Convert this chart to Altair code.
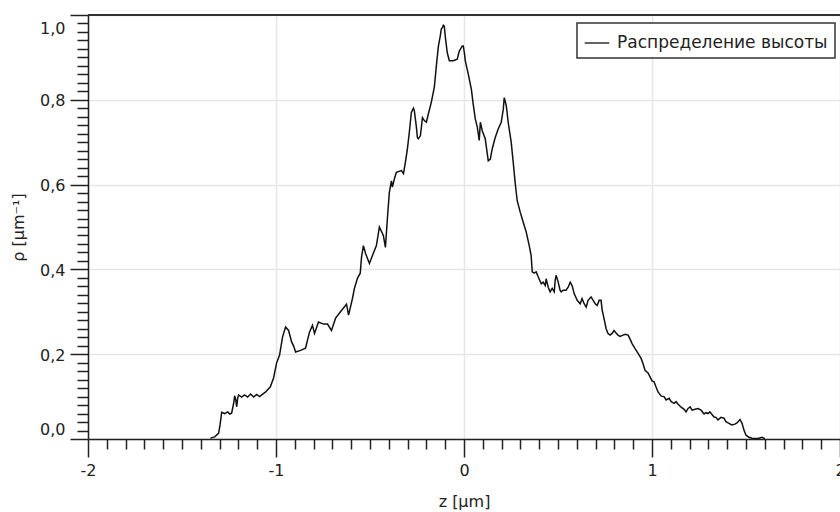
import altair as alt
import pandas as pd

# ---- data ----
z = [
    -1.349, -1.326, -1.305, -1.297, -1.289, -1.273, -1.257, -1.246, -1.236, -1.224,
    -1.220, -1.214, -1.209, -1.204, -1.199, -1.183, -1.167, -1.151, -1.135, -1.119,
    -1.103, -1.087, -1.071, -1.055, -1.030, -1.013, -0.997, -0.981, -0.965, -0.949,
    -0.933, -0.917, -0.906, -0.896, -0.869, -0.843, -0.822, -0.806, -0.795, -0.774,
    -0.747, -0.726, -0.705, -0.683, -0.657, -0.625, -0.614, -0.593, -0.583, -0.567,
    -0.552, -0.545, -0.535, -0.524, -0.503, -0.487, -0.466, -0.450, -0.429, -0.418,
    -0.407, -0.397, -0.386, -0.381, -0.370, -0.360, -0.333, -0.322, -0.312, -0.301,
    -0.290, -0.280, -0.269, -0.264, -0.253, -0.248, -0.243, -0.232, -0.221, -0.211,
    -0.200, -0.190, -0.174, -0.158, -0.147, -0.136, -0.126, -0.121, -0.115, -0.110,
    -0.105, -0.099, -0.089, -0.078, -0.057, -0.036, -0.025, -0.009, -0.004, 0.002,
    0.007, 0.023, 0.039, 0.049, 0.060, 0.071, 0.081, 0.087, 0.097, 0.113,
    0.129, 0.140, 0.150, 0.166, 0.182, 0.198, 0.209, 0.214, 0.225, 0.235,
    0.251, 0.262, 0.272, 0.283, 0.299, 0.315, 0.331, 0.347, 0.357, 0.363,
    0.373, 0.384, 0.395, 0.411, 0.421, 0.432, 0.437, 0.448, 0.458, 0.469,
    0.480, 0.485, 0.490, 0.501, 0.511, 0.517, 0.527, 0.543, 0.554, 0.565,
    0.575, 0.586, 0.602, 0.618, 0.628, 0.639, 0.650, 0.660, 0.676, 0.687,
    0.698, 0.708, 0.719, 0.729, 0.735, 0.745, 0.756, 0.766, 0.777, 0.788,
    0.798, 0.809, 0.819, 0.830, 0.846, 0.857, 0.873, 0.884, 0.894, 0.910,
    0.926, 0.942, 0.952, 0.963, 0.979, 0.989, 1.000, 1.011, 1.021, 1.032,
    1.049, 1.064, 1.075, 1.091, 1.102, 1.118, 1.128, 1.139, 1.155, 1.171,
    1.181, 1.192, 1.203, 1.213, 1.229, 1.245, 1.261, 1.277, 1.287, 1.298,
    1.308, 1.319, 1.330, 1.340, 1.351, 1.367, 1.383, 1.393, 1.409, 1.425,
    1.441, 1.452, 1.468, 1.479, 1.489, 1.500, 1.516, 1.532, 1.564, 1.585,
    1.601,
]
rho = [
    0.002, 0.005, 0.014, 0.035, 0.063, 0.060, 0.064, 0.059, 0.061, 0.087,
    0.102, 0.092, 0.076, 0.096, 0.104, 0.099, 0.104, 0.099, 0.106, 0.099,
    0.105, 0.100, 0.106, 0.111, 0.123, 0.144, 0.179, 0.198, 0.241, 0.264,
    0.256, 0.229, 0.219, 0.205, 0.209, 0.214, 0.252, 0.268, 0.249, 0.276,
    0.271, 0.271, 0.256, 0.285, 0.300, 0.318, 0.292, 0.332, 0.355, 0.379,
    0.391, 0.429, 0.456, 0.438, 0.414, 0.433, 0.456, 0.500, 0.480, 0.452,
    0.523, 0.582, 0.609, 0.594, 0.614, 0.629, 0.633, 0.626, 0.652, 0.684,
    0.727, 0.770, 0.780, 0.774, 0.735, 0.711, 0.708, 0.715, 0.758, 0.751,
    0.747, 0.766, 0.794, 0.829, 0.880, 0.927, 0.951, 0.967, 0.970, 0.976,
    0.974, 0.947, 0.911, 0.892, 0.892, 0.896, 0.915, 0.927, 0.927, 0.911,
    0.892, 0.860, 0.825, 0.790, 0.755, 0.735, 0.704, 0.747, 0.727, 0.708,
    0.656, 0.660, 0.684, 0.711, 0.731, 0.747, 0.778, 0.805, 0.786, 0.747,
    0.700, 0.652, 0.605, 0.562, 0.535, 0.511, 0.488, 0.456, 0.433, 0.394,
    0.391, 0.394, 0.382, 0.366, 0.370, 0.362, 0.378, 0.358, 0.347, 0.355,
    0.347, 0.374, 0.386, 0.370, 0.351, 0.347, 0.351, 0.351, 0.358, 0.370,
    0.362, 0.343, 0.327, 0.319, 0.331, 0.319, 0.311, 0.327, 0.335, 0.327,
    0.319, 0.315, 0.327, 0.327, 0.304, 0.284, 0.260, 0.249, 0.245, 0.249,
    0.256, 0.250, 0.245, 0.242, 0.245, 0.247, 0.245, 0.235, 0.225, 0.213,
    0.202, 0.190, 0.178, 0.162, 0.156, 0.147, 0.137, 0.135, 0.123, 0.111,
    0.101, 0.100, 0.092, 0.096, 0.088, 0.084, 0.088, 0.082, 0.075, 0.070,
    0.064, 0.072, 0.076, 0.068, 0.070, 0.072, 0.068, 0.059, 0.062, 0.060,
    0.064, 0.058, 0.052, 0.051, 0.045, 0.051, 0.049, 0.041, 0.037, 0.033,
    0.035, 0.038, 0.046, 0.037, 0.021, 0.009, 0.004, 0.002, 0.001, 0.004,
    0.001,
]
series_name = "Распределение высоты"
x_title = "z [μm]"
y_title = "ρ [μm⁻¹]"
x_domain = [-2, 2]
y_domain = [0, 1]
x_ticks = [round(-2 + 0.1 * i, 1) for i in range(41)]   # minor step 0.1, major every 1
y_ticks = [round(0.02 * i, 2) for i in range(51)]       # minor step 0.02, major every 0.2
top_border = [1.0]

df = pd.DataFrame({"z": z, "rho": rho, "series": series_name})
top_df = pd.DataFrame({"y": top_border})

FONT = "DejaVu Sans"
INK = "#222222"

x_major = "abs(datum.value - round(datum.value)) < 1e-6"
y_major = "abs(datum.value * 5 - round(datum.value * 5)) < 1e-6"

x_axis = alt.Axis(
    values=x_ticks,
    tickCount=500,
    title=x_title,
    labelExpr=f"{x_major} ? toString(round(datum.value)) : ''",
    tickSize={"condition": {"test": x_major, "value": 18}, "value": 10},
    gridOpacity={"condition": {"test": x_major, "value": 1}, "value": 0},
    labelFlush=False,
    labelOverlap=False,
    labelPadding=5,
    titlePadding=15,
)
y_axis = alt.Axis(
    values=y_ticks,
    tickCount=500,
    title=y_title,
    labelExpr=f"{y_major} ? replace(format(datum.value, '.1f'), '.', ',') : ''",
    tickSize={"condition": {"test": y_major, "value": 18}, "value": 11},
    gridOpacity={"condition": {"test": y_major, "value": 1}, "value": 0},
    labelFlush=False,
    labelOffset={
        "condition": [
            {"test": "datum.value > 0.99", "value": 13},
            {"test": "datum.value < 0.01", "value": -10},
        ],
        "value": 1,
    },
    labelOverlap=False,
    labelPadding=5,
    titlePadding=13,
)

line = alt.Chart(df).mark_line(strokeWidth=1.5, interpolate="linear").encode(
    x=alt.X("z:Q", scale=alt.Scale(domain=x_domain, nice=False, zero=False), axis=x_axis),
    y=alt.Y("rho:Q", scale=alt.Scale(domain=y_domain, nice=False), axis=y_axis),
    color=alt.Color(
        "series:N",
        scale=alt.Scale(range=["#111111"]),
        legend=alt.Legend(
            title=None,
            orient="none",
            legendX=489,
            legendY=8,
            symbolType="stroke",
            symbolSize=600,
            symbolStrokeWidth=1.3,
            labelFont=FONT,
            labelFontSize=17,
            labelColor=INK,
            labelOffset=7,
            labelLimit=0,
            padding=7,
            strokeColor="#333333",
            fillColor="white",
        ),
    ),
)

border = alt.Chart(top_df).mark_rule(color="#333333", strokeWidth=2).encode(
    y=alt.Y("y:Q")
)

chart = (
    alt.layer(line, border)
    .properties(
        width=752,
        height=424,
        autosize=alt.AutoSizeParams(type="none"),
        padding={"left": 88, "top": 15, "right": 0, "bottom": 73},
        background="white",
    )
    .configure_view(stroke=None)
    .configure_axis(
        labelFont=FONT,
        titleFont=FONT,
        labelFontSize=16,
        titleFontSize=16,
        titleFontWeight="normal",
        labelColor=INK,
        titleColor=INK,
        domainColor=INK,
        domainWidth=1.5,
        tickColor=INK,
        tickWidth=1.5,
        gridColor="#e6e6e6",
        gridWidth=1.5,
    )
    .configure_legend(strokeWidth=1.5)
)

chart.save("out.html", embed_options={"renderer": "svg", "actions": False})
